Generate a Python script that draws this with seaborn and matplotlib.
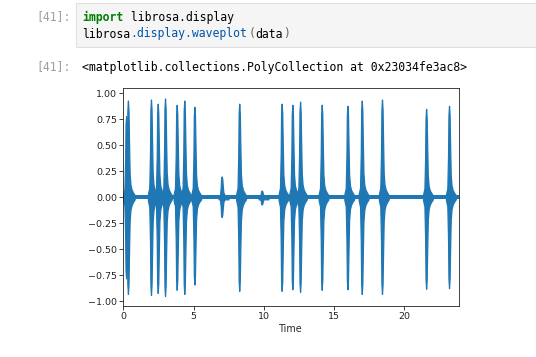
import numpy as np
import pandas as pd
import matplotlib
matplotlib.use("Agg")
import matplotlib.pyplot as plt
import seaborn as sns

# ---- data ----
burst_times = [0.20, 0.33, 1.97, 2.45, 2.97, 3.80, 4.34, 5.06, 7.00, 8.25, 9.85,
               11.27, 12.03, 12.58, 14.12, 15.95, 16.97, 18.41, 21.55, 23.18]
pos_peaks = [0.78, 0.93, 0.94, 0.90, 0.95, 0.89, 0.93, 0.87, 0.20, 0.90, 0.065,
             0.90, 0.89, 0.92, 0.89, 0.88, 0.93, 0.94, 0.85, 0.88]
neg_peaks = [-0.78, -0.93, -0.94, -0.92, -0.95, -0.89, -0.93, -0.84, -0.19, -0.90, -0.07,
             -0.90, -0.885, -0.91, -0.89, -0.885, -0.93, -0.93, -0.88, -0.875]
# envelope shape of one burst (time offset from peak in s, relative amplitude)
shape_dt = [-0.22, -0.12, -0.07, -0.04, 0.00, 0.04, 0.08, 0.12, 0.18, 0.26, 0.36, 0.48]
shape_amp = [0.03, 0.10, 0.45, 0.90, 1.00, 0.90, 0.55, 0.25, 0.13, 0.08, 0.05, 0.02]
duration = 23.89
noise_floor = 0.02
xticks = [0, 5, 10, 15, 20]
yticks = [-1.00, -0.75, -0.50, -0.25, 0.00, 0.25, 0.50, 0.75, 1.00]

sns.set_style("ticks")
plt.rcParams["font.family"] = ["DejaVu Sans"]

W, H = 536, 357
fig = plt.figure(figsize=(W / 100, H / 100), dpi=100)
fig.patch.set_facecolor("white")

# ---- notebook cell decoration ----
box = plt.Rectangle((76 / W, 1 - 47 / H), 1 - 76 / W + 0.01, (47 - 2.7) / H,
                    transform=fig.transFigure, facecolor="#f5f5f5",
                    edgecolor="#e0e0e0", linewidth=0.8)
fig.patches.append(box)

mono = "DejaVu Sans Mono"
fs_code = 8.3
cw = 6.93  # px per char


def put(segments, x0, ybase):
    n = 0
    for txt, col, bold in segments:
        fig.text((x0 + n * cw) / W, 1 - ybase / H, txt, family=mono, size=fs_code,
                 color=col, weight="bold" if bold else "normal", va="baseline", ha="left")
        n += len(txt)


put([("[41]:", "#9e9e9e", False)], 36, 20.5)
put([("import", "#008000", True), (" librosa.display", "#000000", False)], 82, 20.5)
put([("librosa", "#000000", False), (".display.waveplot", "#0055aa", False),
     ("(", "#666655", False), ("data", "#000000", False), (")", "#666655", False)], 82, 37.5)
put([("[41]:", "#9e9e9e", False)], 36, 70.5)
put([("<matplotlib.collections.PolyCollection at 0x23034fe3ac8>", "#000000", False)], 82, 70.5)

# ---- waveform ----
ax = fig.add_axes([123.3 / W, 1 - 306 / H, (459 - 123.3) / W, (306 - 88.3) / H])
color = "#1f77b4"

base = pd.DataFrame({"t": [0.0, duration], "v": [0.0, 0.0]})
ax.fill_between(base["t"], -noise_floor, noise_floor, color=color, linewidth=0)
sns.lineplot(data=base, x="t", y="v", ax=ax, color=color, linewidth=1.6)

dt = np.array(shape_dt)
amp = np.array(shape_amp)
for t0, p, n in zip(burst_times, pos_peaks, neg_peaks):
    tt = t0 + dt
    up = np.maximum(p * amp, noise_floor)
    lo = np.minimum(n * amp, -noise_floor)
    ax.fill_between(tt, lo, up, color=color, linewidth=0.9, edgecolor=color)

ax.set_xlim(0, duration)
ax.set_ylim(-1.046, 1.048)
ax.set_xticks(xticks)
ax.set_yticks(yticks)
ax.set_xticklabels([str(v) for v in xticks])
ax.set_yticklabels([f"{v:.2f}".replace("-", "\u2212") for v in yticks])
ax.set_xlabel("Time", fontsize=6.9, labelpad=2)
ax.set_ylabel("")
for s in ax.spines.values():
    s.set_visible(True)
    s.set_linewidth(0.6)
    s.set_color("#222222")
ax.tick_params(axis="both", labelsize=6.8, length=2.6, width=0.6, pad=1.8,
               color="#222222", labelcolor="#222222")
ax.set_facecolor("white")

fig.savefig("out.png", dpi=100, facecolor="white")
